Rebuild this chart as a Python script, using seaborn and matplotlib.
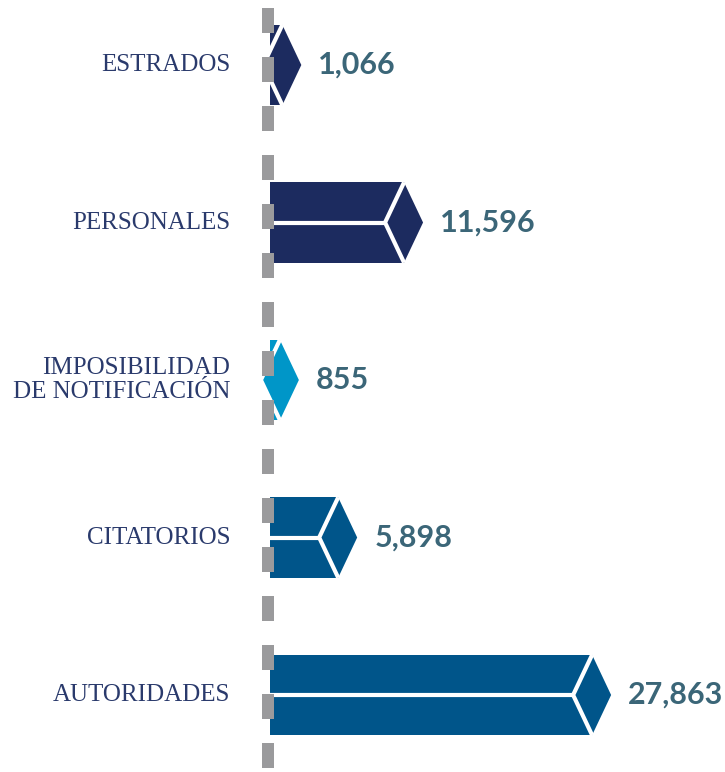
import matplotlib
matplotlib.use("Agg")
import matplotlib.pyplot as plt
import seaborn as sns
import pandas as pd

# data
categories = ["ESTRADOS", "PERSONALES", "IMPOSIBILIDAD\nDE NOTIFICACIÓN", "CITATORIOS", "AUTORIDADES"]
values = [1066, 11596, 855, 5898, 27863]
bar_colors = ["#1c2b5f", "#1c2b5f", "#0096c8", "#00558a", "#00558a"]

LABEL_COLOR = "#2a3a6c"
VALUE_COLOR = "#3b6678"
DASH_COLOR = "#9a9a9c"

df = pd.DataFrame({"cat": categories, "val": values})

W, H = 725, 772
fig = plt.figure(figsize=(W / 100, H / 100), dpi=100)
ax = fig.add_axes([0, 0, 1, 1])
ax.set_facecolor("white")

# pixel -> data helpers (x origin at pixel 270)
UPX = 86.5          # data units per pixel along x
x0_px = 270
ROW = 157.5         # pixels per category step

sns.barplot(data=df, x="val", y="cat", hue="cat", palette=bar_colors, legend=False,
            orient="h", width=0.51, saturation=1, ax=ax, zorder=2)
ax.set_xlim(-x0_px * UPX, (W - x0_px) * UPX)
ax.set_ylim(4 + (H - 695) / ROW, -65 / ROW)

d = 19 * UPX  # half width of the point (rhombus)
for patch, val, col, cat in zip(ax.patches, values, bar_colors, categories):
    top = patch.get_y()
    h = patch.get_height()
    bot = top + h
    mid = top + h / 2
    xc = patch.get_x() + patch.get_width()
    ax.fill([xc, xc + d, xc, xc - d], [top, mid, bot, mid], color=col, lw=0, zorder=3)
    ax.plot([xc, xc - d, xc], [top, mid, bot], color="white", lw=3, zorder=4,
            solid_joinstyle="miter", solid_capstyle="butt")
    if xc - d > 0:
        ax.plot([0, xc - d], [mid, mid], color="white", lw=3, zorder=4, solid_capstyle="butt")
    ax.text(xc + d + 17 * UPX, mid, f"{val:,}", ha="left", va="center", fontsize=22,
            fontweight="bold", family="Lato", color=VALUE_COLOR, zorder=5)
    ax.text(-40 * UPX, mid, cat, ha="right", va="center", fontsize=18, family="Liberation Serif",
            color=LABEL_COLOR, linespacing=1.15, zorder=5)

# dashed axis line on top of the bars
ylo, yhi = ax.get_ylim()
ax.plot([-2 * UPX, -2 * UPX], [yhi, ylo], color=DASH_COLOR, lw=8.64, zorder=6,
        linestyle=(41 / 12, (25 / 12, 24 / 12)), solid_capstyle="butt", dash_capstyle="butt")
ax.set_ylim(ylo, yhi)

ax.set_axis_off()
fig.savefig("out.png", dpi=100, facecolor="white")
